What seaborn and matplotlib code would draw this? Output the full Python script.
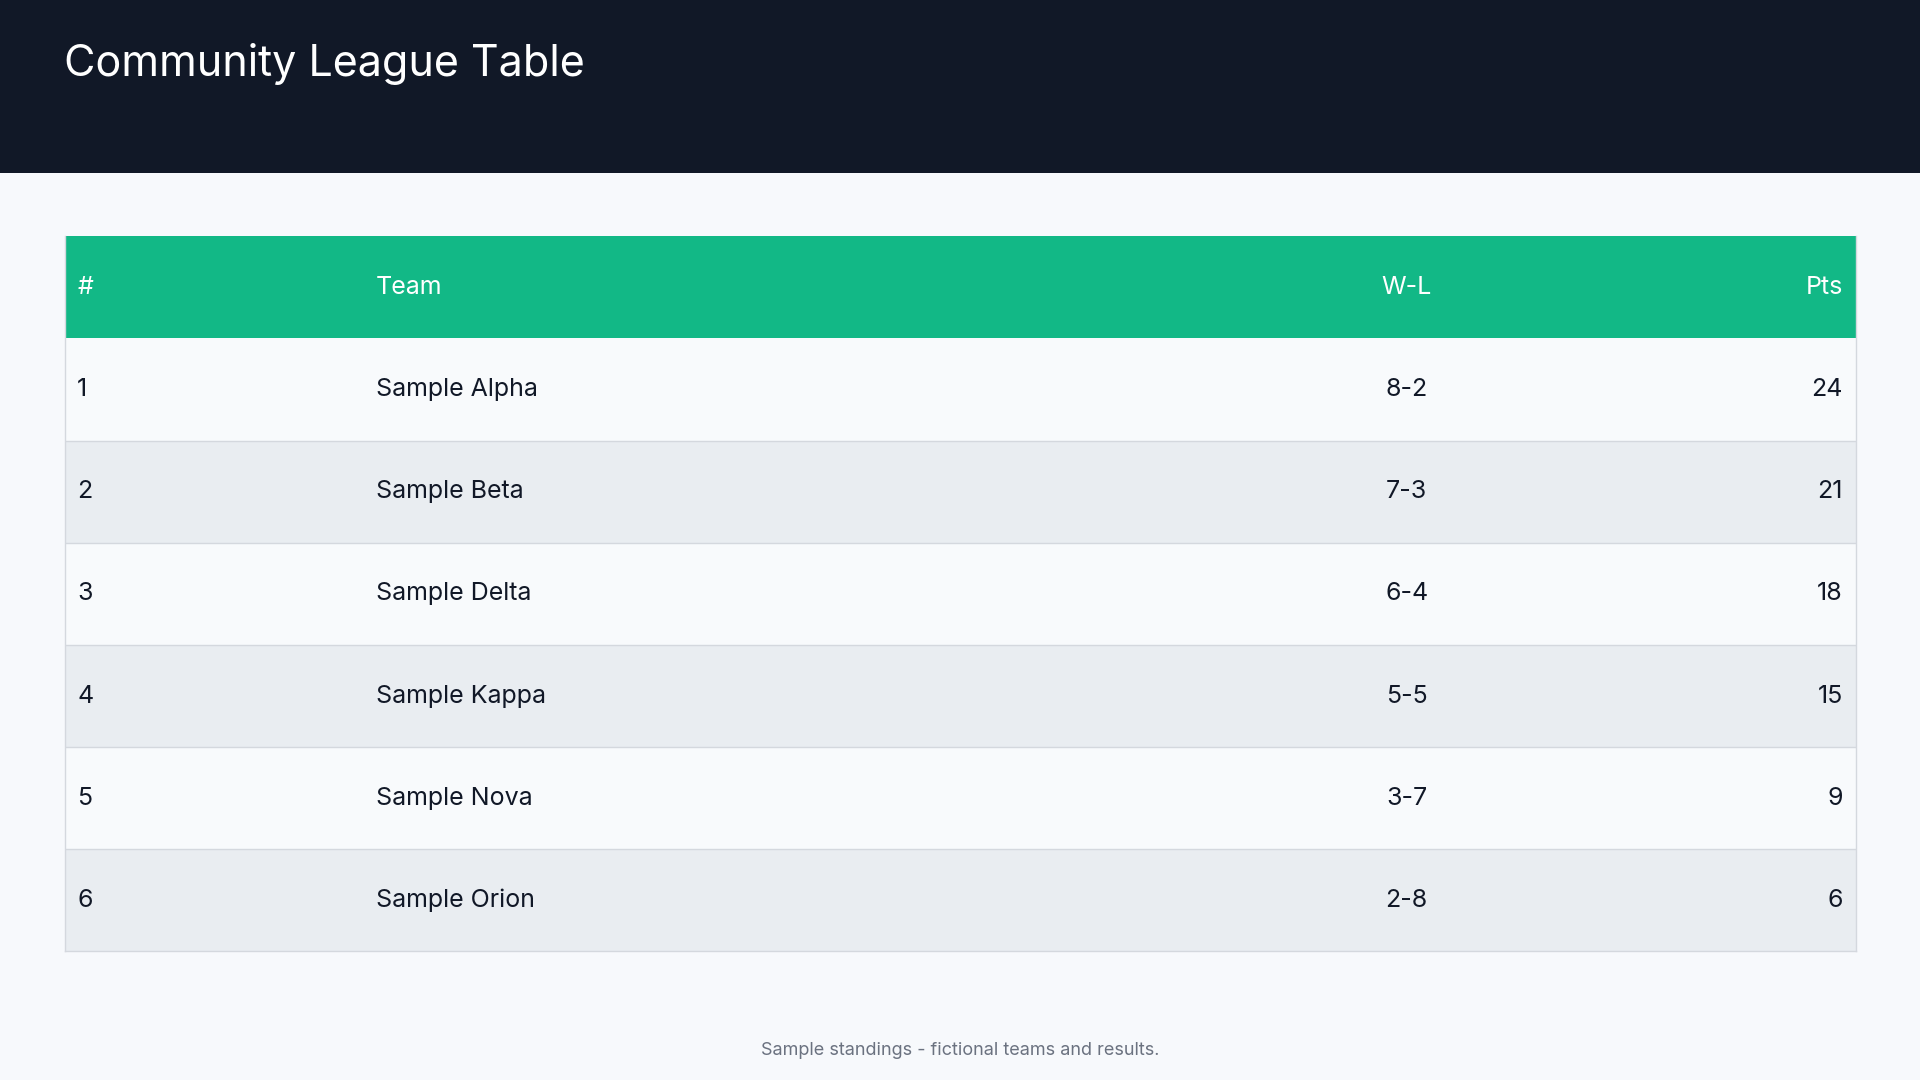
import matplotlib
matplotlib.use("Agg")
import matplotlib.pyplot as plt
import seaborn as sns

title = "Community League Table"
headers = ["#", "Team", "W-L", "Pts"]
ranks = ["1", "2", "3", "4", "5", "6"]
teams = ["Sample Alpha", "Sample Beta", "Sample Delta", "Sample Kappa", "Sample Nova", "Sample Orion"]
records = ["8-2", "7-3", "6-4", "5-5", "3-7", "2-8"]
points = [24, 21, 18, 15, 9, 6]
footer = "Sample standings - fictional teams and results."

sns.set_theme(style="white")
plt.rcParams['font.family'] = ['Inter', 'DejaVu Sans']

fig = plt.figure(figsize=(19.2, 10.8), dpi=100)
fig.patch.set_facecolor("#f7f9fc")
# header band
band = fig.add_axes([0, 1 - 141/882, 1, 141/882])
band.set_facecolor("#111827"); band.set_xticks([]); band.set_yticks([])
for s in band.spines.values(): s.set_visible(False)
fig.text(52/1568, 1 - 52/882, title, color="white", fontsize=31, va="center", ha="left")

ax = fig.add_axes([53/1568, 1 - 777/882, 1463/1568, 584/882])
n = len(teams)
ax.set_xlim(0, 1); ax.set_ylim(n + 1, 0)
ax.axhspan(0, 1, color="#12b886", lw=0)
for i in range(n):
    ax.axhspan(i + 1, i + 2, color="#f8fafc" if i % 2 == 0 else "#e9edf1", lw=0)
    if i > 0:
        ax.axhline(i + 1, color="#d4d8de", lw=1)
xs = [0.0068, 0.1736, 0.749, 0.9925]
has = ["left", "left", "center", "right"]
for h, x, ha in zip(headers, xs, has):
    ax.text(x, 0.5, h, color="white", fontsize=18, ha=ha, va="center")
for i in range(n):
    row = [ranks[i], teams[i], records[i], str(points[i])]
    for v, x, ha in zip(row, xs, has):
        ax.text(x, i + 1.5, v, color="#111827", fontsize=18, ha=ha, va="center")
ax.set_xticks([]); ax.set_yticks([])
for s in ax.spines.values():
    s.set_color("#d4d8de"); s.set_linewidth(1)
ax.spines["top"].set_visible(False)

fig.text(0.5, 1 - 858/882, footer, color="#6b7280", fontsize=13, ha="center", va="center")
fig.savefig("out.png", dpi=100, facecolor=fig.get_facecolor())
